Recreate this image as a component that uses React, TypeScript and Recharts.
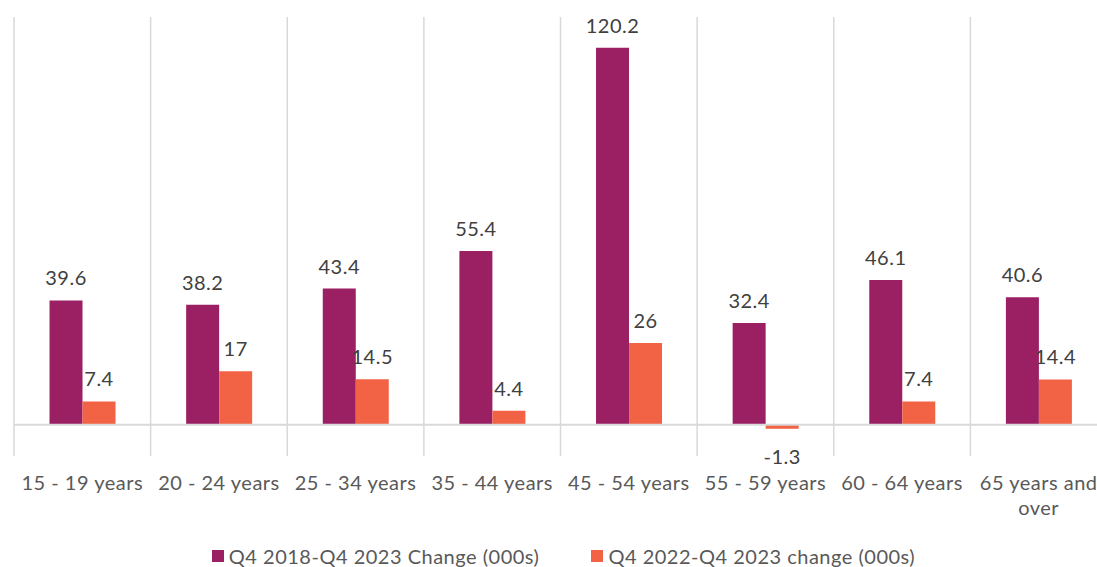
import React from "react";
import { BarChart, Bar, XAxis, YAxis, CartesianGrid, ReferenceLine, LabelList, Legend } from "recharts";

const categories = ["15 - 19 years", "20 - 24 years", "25 - 34 years", "35 - 44 years", "45 - 54 years", "55 - 59 years", "60 - 64 years", "65 years and over"];
const change2018 = [39.6, 38.2, 43.4, 55.4, 120.2, 32.4, 46.1, 40.6];
const change2022 = [7.4, 17, 14.5, 4.4, 26, -1.3, 7.4, 14.4];
const seriesNames = ["Q4 2018-Q4 2023 Change (000s)", "Q4 2022-Q4 2023 change (000s)"];

const COLORS = ["#9B1F63", "#F26346"];
const FONT = "Lato, 'Open Sans', sans-serif";

const data = categories.map((c, i) => ({ name: c, a: change2018[i], b: change2022[i] }));

const splitLabel = (s: string): string[] => {
  if (s.length <= 14) return [s];
  const idx = s.lastIndexOf(" ");
  return [s.slice(0, idx), s.slice(idx + 1)];
};

const CatTick = (props: any) => {
  const { x, y, payload } = props;
  const lines = splitLabel(String(payload.value));
  return (
    <text x={x} y={y + 18} textAnchor="middle" fill="#595959" fontSize={20} letterSpacing={0.5} fontFamily={FONT} dominantBaseline="central">
      {lines.map((l, i) => (
        <tspan key={i} x={x} dy={i === 0 ? 0 : 25}>{l}</tspan>
      ))}
    </text>
  );
};

const ValueLabel = (props: any) => {
  const { x, y, width, height, value } = props;
  const top = Math.min(y, y + height);
  const bottom = Math.max(y, y + height);
  const cx = x + width / 2;
  const ty = value >= 0 ? top - 23 : bottom + 27;
  return (
    <text x={cx} y={ty} textAnchor="middle" dominantBaseline="central" fill="#404040" fontSize={20} letterSpacing={0.5} fontFamily={FONT}>
      {value}
    </text>
  );
};

const LegendContent = () => (
  <div style={{ height: 30, display: "flex", justifyContent: "center", alignItems: "center", paddingTop: 8, boxSizing: "border-box", fontFamily: FONT, fontSize: 20, letterSpacing: 0.5, color: "#595959", paddingLeft: 6 }}>
    {seriesNames.map((n, i) => (
      <div key={n} style={{ display: "flex", alignItems: "center", marginRight: i === 0 ? 52 : 0, lineHeight: "22px" }}>
        <span style={{ display: "inline-block", width: 12, height: 12, background: COLORS[i], marginRight: 5 }} />
        <span>{n}</span>
      </div>
    ))}
  </div>
);

const boundaryGenerator = ({ offset }: any) =>
  Array.from({ length: categories.length + 1 }, (_, i) => offset.left + (offset.width * i) / categories.length);

export default function App() {
  return (
    <div style={{ position: "fixed", top: 0, left: 0, width: 1097, height: 567, overflow: "hidden", background: "#fff" }}>
      <BarChart width={1120} height={567} data={data} margin={{ top: 17, right: 13, bottom: 0, left: 14 }} barCategoryGap="26%" barGap={0}>
        <CartesianGrid vertical horizontal={false} stroke="#D9D9D9" strokeWidth={1.5} verticalCoordinatesGenerator={boundaryGenerator} />
        <XAxis dataKey="name" axisLine={false} tickLine={false} interval={0} tick={<CatTick />} height={81} />
        <YAxis domain={[-10, 130]} hide allowDataOverflow />
        <ReferenceLine y={0} stroke="#D9D9D9" strokeWidth={2} />
        <Bar dataKey="a" name={seriesNames[0]} fill={COLORS[0]} isAnimationActive={false}>
          <LabelList dataKey="a" content={<ValueLabel />} />
        </Bar>
        <Bar dataKey="b" name={seriesNames[1]} fill={COLORS[1]} isAnimationActive={false}>
          <LabelList dataKey="b" content={<ValueLabel />} />
        </Bar>
        <Legend verticalAlign="bottom" content={<LegendContent />} />
      </BarChart>
    </div>
  );
}
